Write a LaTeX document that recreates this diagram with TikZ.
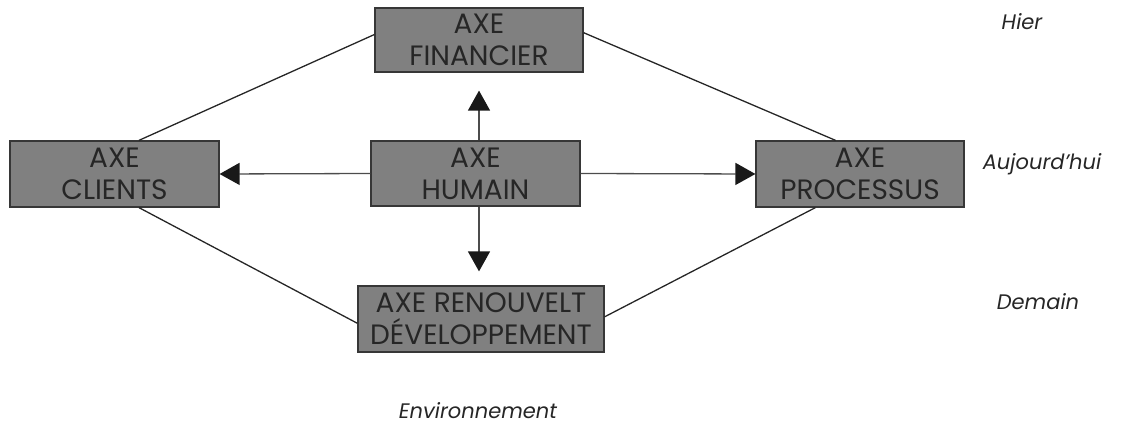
\documentclass[tikz,border=0pt]{standalone}
\usepackage{fontspec}
\setmainfont{Poppins}
\usetikzlibrary{arrows.meta}
\begin{document}
\begin{tikzpicture}
[every node/.style={inner sep=0pt},
axebox/.style={rectangle, fill=boxgray, line width=1.2pt, draw=edgegray, text=inkgray, align=center, font=\fontsize{28pt}{32pt}\selectfont},
period/.style={text=inkgray, font=\fontsize{21pt}{26pt}\selectfont\itshape},
link/.style={line width=1.3pt, color=black!85},
push/.style={line width=1.3pt, color=black!70, -{Triangle[width=22pt, length=20pt, color=black!90]}}]
\definecolor{boxgray}{RGB}{128,128,128}
\definecolor{edgegray}{RGB}{55,55,55}
\definecolor{inkgray}{RGB}{38,38,38}
\useasboundingbox (0pt, 0pt) rectangle (1132pt, -427pt);
\node (fin) [axebox, minimum width=208pt, minimum height=64pt] at (479pt, -40pt) {AXE\\FINANCIER};
\node (cli) [axebox, minimum width=209pt, minimum height=66pt] at (114.5pt, -174pt) {AXE\\CLIENTS};
\node (hum) [axebox, minimum width=209pt, minimum height=65pt] at (475.5pt, -173.5pt) {AXE\\HUMAIN};
\node (proc) [axebox, minimum width=208pt, minimum height=66pt] at (860pt, -174pt) {AXE\\PROCESSUS};
\node (ren) [axebox, minimum width=246pt, minimum height=66pt] at (481pt, -319pt) {AXE RENOUVELT\\DÉVELOPPEMENT};
\node (hier) [period] at (1022pt, -22pt) {Hier};
\node (auj) [period] at (1042pt, -164pt) {Aujourd'hui};
\node (dem) [period] at (1038pt, -302pt) {Demain};
\node (env) [period] at (478pt, -411pt) {Environnement};
\draw [link] (fin.177) -- (cli.54);
\draw [link] (fin.4) -- (proc.126);
\draw [link] (cli.306) -- (ren.182);
\draw [link] (proc.217) -- (ren.1);
\draw [push] (hum.west) -- (cli.east);
\draw [push] (hum.east) -- (proc.west);
\draw [push, shorten >=18pt] (fin.south |- hum.north) -- (fin.south);
\draw [push, shorten >=14pt] (fin.south |- hum.south) -- (fin.south |- ren.north);
\end{tikzpicture}
\end{document}
